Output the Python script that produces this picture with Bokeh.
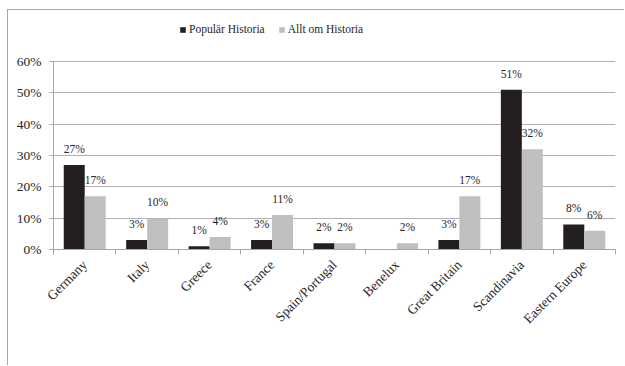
import numpy as np
from math import pi
from bokeh.plotting import figure
from bokeh.models import Range1d, FixedTicker, ColumnDataSource, LabelSet, Legend, LegendItem
from bokeh.embed import file_html
from bokeh.resources import INLINE

# ---- data ----
categories = ["Germany", "Italy", "Greece", "France", "Spain/Portugal",
              "Benelux", "Great Britain", "Scandinavia", "Eastern Europe"]
popular_historia = [27, 3, 1, 3, 2, None, 3, 51, 8]
allt_om_historia = [17, 10, 4, 11, 2, 2, 17, 32, 6]
series_names = ["Populär Historia", "Allt om Historia"]
y_ticks = [0, 10, 20, 30, 40, 50, 60]

DARK = "#231f20"
LIGHT = "#bfbfbf"
GRID = "#b0b0b0"
AXIS = "#a6a6a6"
TEXT = "#262626"
FONT = "Liberation Serif"

n = len(categories)
centers = np.arange(n) + 0.5
off = 0.168
bw = 0.336

# frame spans from canvas top to the x axis; the gridded part (0..60%) is the lower GRID_H px
FRAME_H = 239
GRID_H = 188
y_end = y_ticks[-1] * FRAME_H / GRID_H

p = figure(width=617, height=356, output_backend="svg", toolbar_location=None,
           x_range=Range1d(0, n), y_range=Range1d(0, y_end),
           min_border_left=45, min_border_right=10, min_border_top=0, min_border_bottom=117)
p.styles = {"margin-left": "7px", "margin-top": "9px",
            "border-left": "1px solid #a6a6a6", "border-top": "1px solid #a6a6a6"}
p.outline_line_color = None
p.background_fill_color = "white"
p.border_fill_color = "white"

pop_vals = [np.nan if v is None else v for v in popular_historia]
src1 = ColumnDataSource(dict(x=centers - off, top=pop_vals))
src2 = ColumnDataSource(dict(x=centers + off, top=allt_om_historia))
r1 = p.vbar(x="x", top="top", width=bw, source=src1, fill_color=DARK, line_color=None)
r2 = p.vbar(x="x", top="top", width=bw, source=src2, fill_color=LIGHT, line_color=None)

# data labels
lab1 = [(c - off, v, f"{v}%") for c, v in zip(centers, popular_historia) if v is not None]
lab2 = [(c + off, v, f"{v}%") for c, v in zip(centers, allt_om_historia) if v is not None]
ls = ColumnDataSource(dict(x=[a[0] for a in lab1 + lab2], y=[a[1] for a in lab1 + lab2],
                           t=[a[2] for a in lab1 + lab2]))
labels = LabelSet(x="x", y="y", text="t", source=ls, y_offset=10, text_align="center",
                  text_baseline="bottom", text_font=FONT, text_font_size="11.5px", text_color=TEXT)
p.add_layout(labels)

# y axis
p.yaxis.ticker = FixedTicker(ticks=y_ticks, minor_ticks=[])
p.yaxis.bounds = (y_ticks[0], y_ticks[-1])
p.yaxis.major_label_overrides = {t: f"{t}%" for t in y_ticks}
p.yaxis.axis_line_color = AXIS
p.yaxis.major_tick_line_color = AXIS
p.yaxis.major_tick_out = 4
p.yaxis.major_tick_in = 0
p.yaxis.minor_tick_line_color = None
p.yaxis.major_label_standoff = 8
p.yaxis.major_label_text_font = FONT
p.yaxis.major_label_text_font_size = "13.5px"
p.yaxis.major_label_text_color = TEXT

# x axis
p.xaxis.ticker = FixedTicker(ticks=list(centers), minor_ticks=list(range(n + 1)))
p.xaxis.major_label_overrides = {float(c): name for c, name in zip(centers, categories)}
p.xaxis.axis_line_color = AXIS
p.xaxis.major_tick_line_color = None
p.xaxis.major_tick_out = 0
p.xaxis.minor_tick_line_color = AXIS
p.xaxis.minor_tick_out = 5
p.xaxis.minor_tick_in = 0
p.xaxis.major_label_orientation = pi / 4
p.xaxis.major_label_standoff = 8
p.xaxis.major_label_text_font = FONT
p.xaxis.major_label_text_font_size = "13.5px"
p.xaxis.major_label_text_color = TEXT

p.xgrid.visible = False
p.ygrid.ticker = FixedTicker(ticks=y_ticks)
p.ygrid.grid_line_color = GRID

legend = Legend(items=[LegendItem(label=series_names[0], renderers=[r1]),
                       LegendItem(label=series_names[1], renderers=[r2])],
                orientation="horizontal", location=(126, 213), padding=0, margin=0,
                border_line_color=None, background_fill_alpha=0,
                glyph_width=7, glyph_height=7, label_standoff=3, spacing=13,
                label_text_font=FONT, label_text_font_size="11.5px", label_text_color=TEXT,
                label_height=14)
p.add_layout(legend)

open("out.html", "w").write(file_html(p, INLINE))
